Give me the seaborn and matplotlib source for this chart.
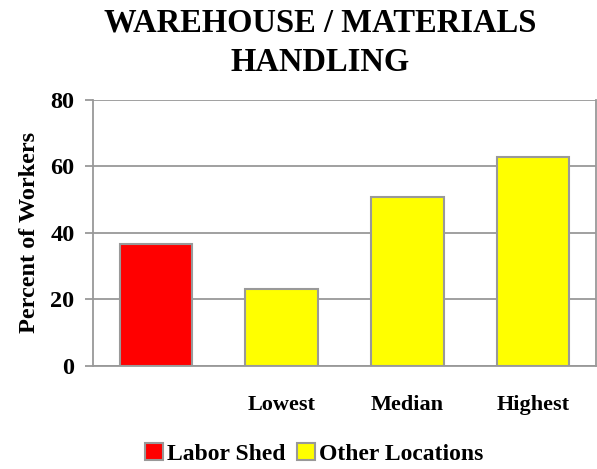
import pandas as pd
import matplotlib.pyplot as plt
import seaborn as sns
from matplotlib.patches import Patch

# data
categories = ["Labor Shed", "Lowest", "Median", "Highest"]
tick_labels = ["", "Lowest", "Median", "Highest"]
values = [36.7, 23.2, 50.9, 62.9]
groups = ["Labor Shed", "Other Locations", "Other Locations", "Other Locations"]
colors = {"Labor Shed": "#FF0000", "Other Locations": "#FFFF00"}

df = pd.DataFrame({"category": categories, "value": values, "group": groups})

sns.set_theme(style="white")
plt.rcParams['font.family'] = ['Liberation Serif', 'DejaVu Serif']
plt.rcParams['text.color'] = 'black'
plt.rcParams['xtick.color'] = 'black'
plt.rcParams['ytick.color'] = 'black'
plt.rcParams['axes.labelcolor'] = 'black'
grey = "#999999"

fig = plt.figure(figsize=(5.97, 4.69), dpi=100)
ax = fig.add_axes([0.156, 0.22, 0.842, 0.567])

sns.barplot(data=df, x="category", y="value", hue="group", dodge=False,
            palette=colors, saturation=1, width=0.58, edgecolor=grey, linewidth=1.5,
            legend=False, ax=ax, zorder=3)

ax.set_ylim(0, 80)
ax.set_yticks([0, 20, 40, 60, 80])
ax.grid(axis="y", color=grey, linewidth=1.3, zorder=0)
ax.set_axisbelow(True)
ax.set_xticks(range(len(tick_labels)))
ax.set_xticklabels(tick_labels, fontsize=16, fontweight="bold")
ax.tick_params(axis="y", labelsize=17.5, left=True, length=5.5, width=1.3, color=grey, pad=8)
ax.tick_params(axis="x", bottom=False, pad=15)
for lab in ax.get_yticklabels():
    lab.set_fontweight("bold")
ax.spines["top"].set_visible(False)
for s in ["left", "bottom", "right"]:
    ax.spines[s].set_color(grey)
    ax.spines[s].set_linewidth(1.3)
ax.set_xlabel("")
ax.set_ylabel("Percent of Workers", fontsize=17.5, fontweight="bold", labelpad=7.5)

# two-line title, centred on the chart area
fig.text(320 / 597, 1 - 32 / 469, "WAREHOUSE / MATERIALS", ha="center", va="baseline",
         fontsize=23.5, fontweight="bold")
fig.text(320 / 597, 1 - 70.5 / 469, "HANDLING", ha="center", va="baseline",
         fontsize=23.5, fontweight="bold")

handles = [Patch(facecolor=colors[g], edgecolor=grey, linewidth=1.5) for g in colors]
fig.legend(handles, list(colors), loc="center", bbox_to_anchor=(314 / 597, 1 - 454 / 469), ncol=2,
           frameon=False, handlelength=0.75, handleheight=0.75, handletextpad=0.17,
           columnspacing=0.5, prop={"weight": "bold", "size": 17})

fig.savefig("out.png", dpi=100)
